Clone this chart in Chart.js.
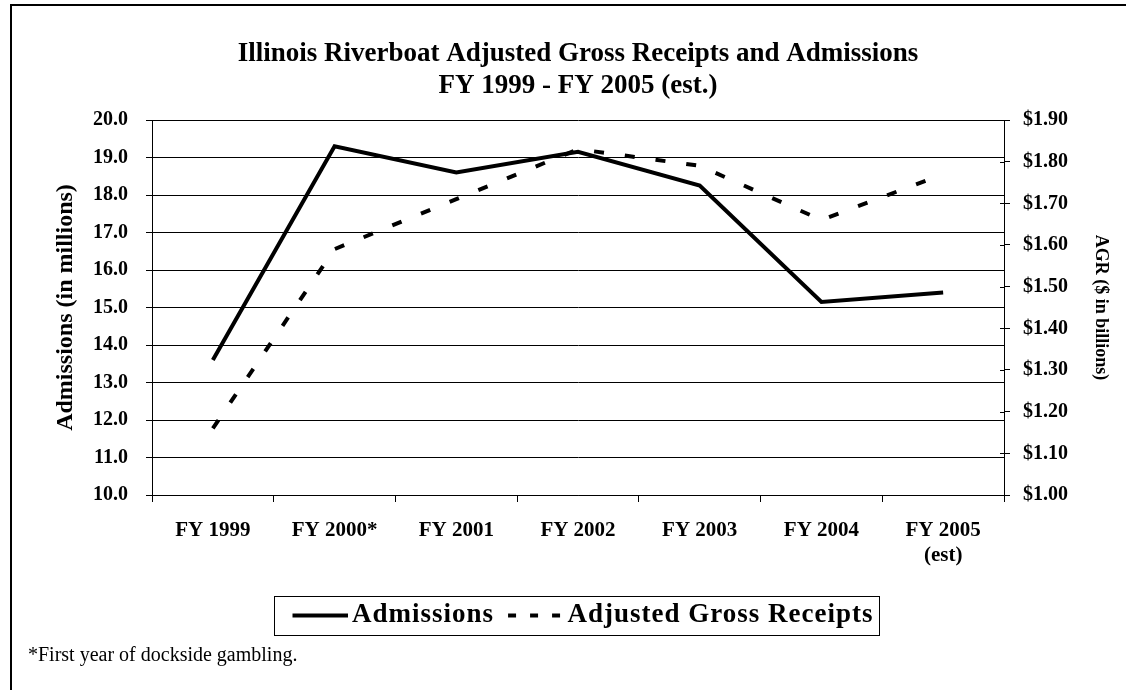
<!DOCTYPE html>
<html>
<head>
<meta charset="utf-8">
<title>Illinois Riverboat AGR and Admissions</title>
<script src="https://cdn.jsdelivr.net/npm/chart.js@4.4.1/dist/chart.umd.min.js"></script>
<style>
  html, body { margin: 0; padding: 0; background: #fff; }
  #wrap { position: relative; width: 1126px; height: 690px; overflow: hidden; }
  #frame {
    position: absolute; left: 10px; top: 4px; right: -4px; bottom: -4px;
    border-left: 2px solid #000; border-top: 2px solid #000;
    pointer-events: none;
  }
  #note {
    position: absolute; left: 28px; top: 643px;
    font: 20px 'Liberation Serif', 'Times New Roman', serif; color: #000;
  }
</style>
</head>
<body>
<div id="wrap">
  <canvas id="chart" width="1126" height="690"></canvas>
  <div id="frame"></div>
  <div id="note">*First year of dockside gambling.</div>
</div>
<script>
// chart data
const categories = ['FY 1999', 'FY 2000*', 'FY 2001', 'FY 2002', 'FY 2003', 'FY 2004', ['FY 2005', '(est)']];
const admissions = [13.6, 19.3, 18.6, 19.15, 18.25, 15.15, 15.4];   // millions
const agr = [1.16, 1.59, 1.71, 1.83, 1.79, 1.66, 1.77];             // $ billions

const titleLines = ['Illinois Riverboat Adjusted Gross Receipts and Admissions', 'FY 1999 - FY 2005 (est.)'];

const serif = "'Liberation Serif', 'Times New Roman', serif";
Chart.defaults.font.family = serif;
Chart.defaults.color = '#000';

// legend key images (the default point-style keys ignore the dash)
const KEY_W = 56, KEY_SHIFT = 10;
function makeKey(dash) {
  const c = document.createElement('canvas');
  c.width = KEY_W + 2 * KEY_SHIFT;
  c.height = 8;
  const g = c.getContext('2d');
  g.strokeStyle = '#000';
  g.lineWidth = 4;
  g.lineCap = 'butt';
  g.setLineDash(dash);
  g.beginPath();
  g.moveTo(2 * KEY_SHIFT, 4);
  g.lineTo(2 * KEY_SHIFT + KEY_W, 4);
  g.stroke();
  return c;
}
const legendKeys = [makeKey([]), makeKey([8, 14])];

// the legend text in the original is a bit letter-spaced
const legendSpacing = {
  id: 'legendSpacing',
  beforeLayout(chart) {
    const lg = chart.legend;
    if (!lg || lg._spaced) return;
    lg._spaced = true;
    ['fit', 'draw'].forEach(fn => {
      const orig = lg[fn];
      lg[fn] = function () {
        const c = this.ctx;
        c.save();
        c.letterSpacing = '1px';
        const r = orig.apply(this, arguments);
        c.restore();
        return r;
      };
    });
  }
};

// box around the legend + the right axis ticks that cross the axis line
const extras = {
  id: 'extras',
  afterDraw(chart) {
    const ctx = chart.ctx;
    ctx.save();
    ctx.strokeStyle = '#000';
    ctx.lineWidth = 1;
    ctx.setLineDash([]);

    const lg = chart.legend;
    if (lg && lg.legendHitBoxes && lg.legendHitBoxes.length) {
      const hb = lg.legendHitBoxes;
      const left = Math.min(...hb.map(b => b.left)) - 8;
      const right = Math.max(...hb.map(b => b.left + b.width)) + 6;
      const top = Math.min(...hb.map(b => b.top)) - 6;
      const bottom = Math.max(...hb.map(b => b.top + b.height)) + 6;
      ctx.strokeRect(Math.round(left) + 0.5, Math.round(top) + 0.5, Math.round(right - left), Math.round(bottom - top));
    }

    const s = chart.scales.y1;
    ctx.beginPath();
    s.ticks.forEach((t, i) => {
      const y = Math.round(s.getPixelForTick(i)) + 0.5;
      ctx.moveTo(s.left - 4, y);
      ctx.lineTo(s.left, y);
    });
    ctx.stroke();
    ctx.restore();
  }
};

const ctx = document.getElementById('chart').getContext('2d');
new Chart(ctx, {
  type: 'line',
  data: {
    labels: categories,
    datasets: [
      {
        label: 'Admissions',
        data: admissions,
        yAxisID: 'y',
        borderColor: '#000',
        backgroundColor: '#000',
        borderWidth: 4,
        pointRadius: 0,
        tension: 0,
        borderJoinStyle: 'miter'
      },
      {
        label: 'Adjusted Gross Receipts',
        data: agr,
        yAxisID: 'y1',
        borderColor: '#000',
        backgroundColor: '#000',
        borderWidth: 4,
        borderDash: [10, 21],
        borderCapStyle: 'butt',
        pointRadius: 0,
        tension: 0
      }
    ]
  },
  options: {
    responsive: false,
    animation: false,
    layout: { padding: { left: 14, right: 0, top: 0, bottom: 51 } },
    plugins: {
      title: {
        display: true,
        fullSize: false,
        text: titleLines,
        font: { size: 27, weight: 'bold', lineHeight: '32px' },
        padding: { top: 38, bottom: 18 }
      },
      legend: {
        position: 'bottom',
        fullSize: false,
        labels: {
          usePointStyle: true,
          pointStyleWidth: KEY_W,
          padding: 4,
          color: '#000',
          font: { size: 27, weight: 'bold' },
          generateLabels(chart) {
            const items = Chart.defaults.plugins.legend.labels.generateLabels(chart);
            items.forEach((it, i) => { it.pointStyle = legendKeys[i]; });
            return items;
          }
        }
      },
      tooltip: { enabled: false }
    },
    scales: {
      x: {
        offset: true,
        grid: { offset: true, drawOnChartArea: false, color: '#000', tickLength: 7 },
        border: { color: '#000', width: 1 },
        ticks: { font: { size: 21, weight: 'bold', lineHeight: 1.2 }, maxRotation: 0, autoSkip: false, padding: 16 },
        afterFit(scale) { scale.height = 103; }
      },
      y: {
        position: 'left',
        min: 10,
        max: 20,
        ticks: {
          stepSize: 1,
          padding: 18,
          font: { size: 20, weight: 'bold' },
          callback: v => Number(v).toFixed(1)
        },
        grid: { color: '#000', lineWidth: 1, tickLength: 6 },
        border: { color: '#000', width: 1 },
        title: {
          display: true,
          text: 'Admissions (in millions)',
          font: { size: 24, weight: 'bold' },
          padding: { top: 37, bottom: 0 }
        },
        afterFit(scale) { scale.width = 138; }
      },
      y1: {
        position: 'right',
        min: 1.0,
        max: 1.9,
        ticks: {
          stepSize: 0.1,
          padding: 13,
          font: { size: 20, weight: 'bold' },
          callback: v => '$' + Number(v).toFixed(2)
        },
        grid: { drawOnChartArea: false, color: '#000', tickLength: 6 },
        border: { color: '#000', width: 1 },
        title: {
          display: true,
          text: 'AGR ($ in billions)',
          font: { size: 18, weight: 'bold' },
          padding: { top: 15, bottom: 0 }
        },
        afterFit(scale) { scale.width = 122; }
      }
    }
  },
  plugins: [legendSpacing, extras]
});
</script>
</body>
</html>
